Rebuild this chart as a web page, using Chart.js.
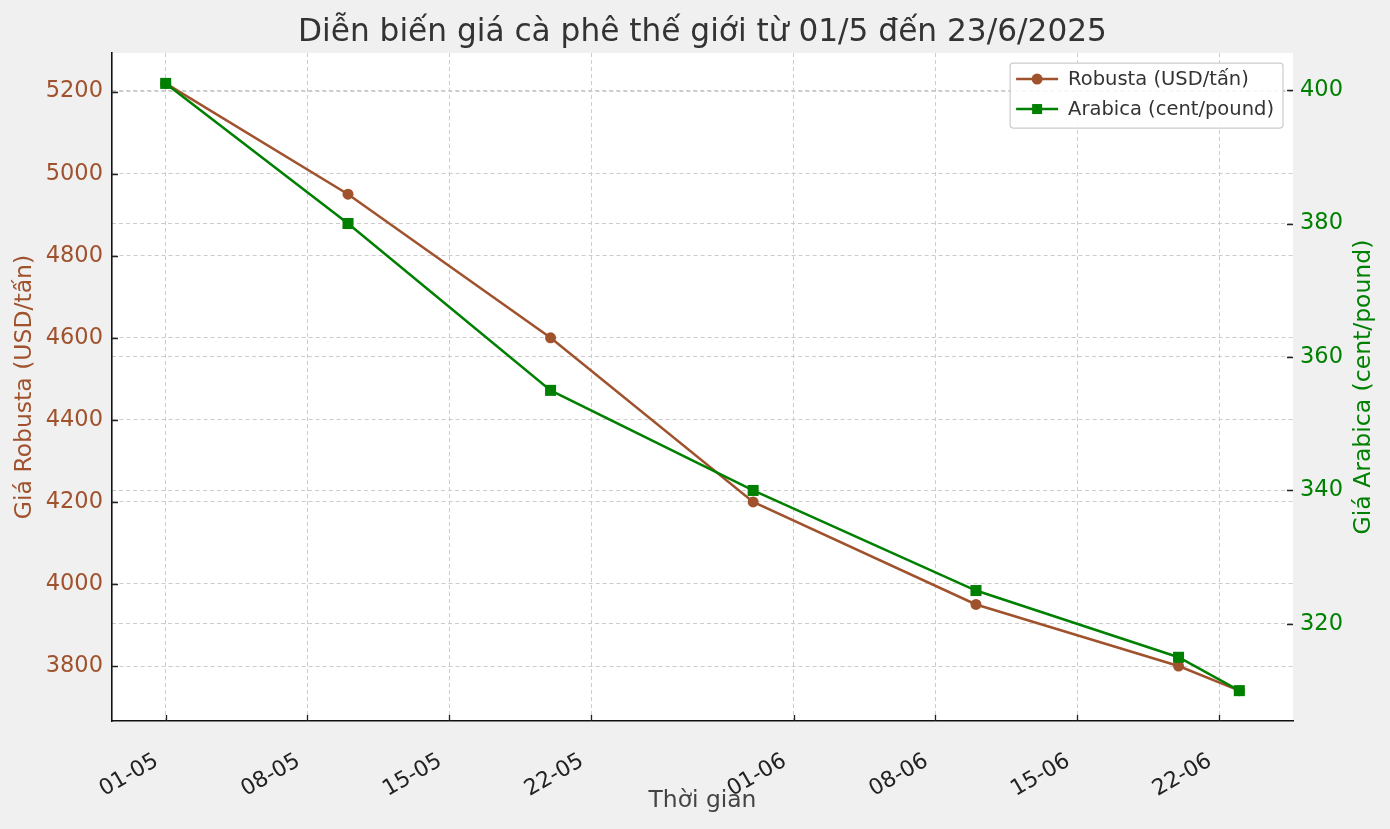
<!DOCTYPE html>
<html>
<head>
<meta charset="utf-8">
<title>Giá cà phê</title>
<script src="https://cdn.jsdelivr.net/npm/chart.js@4.4.1/dist/chart.umd.min.js"></script>
<style>
  html, body { margin: 0; padding: 0; background: #f0f0f0; }
  #wrap { width: 1390px; height: 829px; position: relative; }
</style>
</head>
<body>
<div id="wrap"><canvas id="coffeeChart"></canvas></div>
<script>
// data
const dates = ['2025-05-01', '2025-05-10', '2025-05-20', '2025-05-30', '2025-06-10', '2025-06-20', '2025-06-23'];
const robusta = [5220, 4950, 4600, 4200, 3950, 3800, 3740];
const arabica = [401, 380, 355, 340, 325, 315, 310];

const xTickDates = ['2025-05-01', '2025-05-08', '2025-05-15', '2025-05-22', '2025-06-01', '2025-06-08', '2025-06-15', '2025-06-22'];
const xTickLabels = ['01-05', '08-05', '15-05', '22-05', '01-06', '08-06', '15-06', '22-06'];
const robustaTicks = [3800, 4000, 4200, 4400, 4600, 4800, 5000, 5200];
const arabicaTicks = [320, 340, 360, 380, 400];

const robustaColor = '#a0522d';
const arabicaColor = '#008000';
const rightTitle = 'Giá Arabica (cent/pound)';

function dayOf(str) {
    const p = str.split('-').map(Number);
    return (Date.UTC(p[0], p[1] - 1, p[2]) - Date.UTC(2025, 4, 1)) / 86400000;
}

// matplotlib style 5% margins
function padRange(values) {
    const lo = Math.min(...values), hi = Math.max(...values);
    const m = (hi - lo) * 0.05;
    return [lo - m, hi + m];
}

const days = dates.map(dayOf);
const xRange = padRange(days);
const leftRange = padRange(robusta);
const rightRange = padRange(arabica);

Chart.defaults.font.family = '"DejaVu Sans", sans-serif';

const plotBackground = {
    id: 'plotBackground',
    beforeDraw(chart) {
        const a = chart.chartArea;
        const ctx = chart.ctx;
        ctx.save();
        ctx.fillStyle = '#ffffff';
        ctx.fillRect(a.left, a.top, a.right - a.left, a.bottom - a.top);
        ctx.restore();
    }
};

// small tick marks pointing into the plot + right axis title read bottom to top
const innerTicks = {
    id: 'innerTicks',
    afterDraw(chart) {
        const ctx = chart.ctx;
        const a = chart.chartArea;
        ctx.save();
        ctx.strokeStyle = '#222';
        ctx.lineWidth = 1.3;
        ctx.beginPath();
        chart.scales.x.ticks.forEach(t => {
            const px = Math.round(chart.scales.x.getPixelForValue(t.value)) + 0.5;
            ctx.moveTo(px, a.bottom);
            ctx.lineTo(px, a.bottom - 6);
        });
        chart.scales.y.ticks.forEach(t => {
            const py = Math.round(chart.scales.y.getPixelForValue(t.value)) + 0.5;
            ctx.moveTo(a.left, py);
            ctx.lineTo(a.left + 6, py);
        });
        chart.scales.y1.ticks.forEach(t => {
            const py = Math.round(chart.scales.y1.getPixelForValue(t.value)) + 0.5;
            ctx.moveTo(a.right, py);
            ctx.lineTo(a.right - 6, py);
        });
        ctx.stroke();

        const s = chart.scales.y1;
        ctx.translate(s.right - 26, (a.top + a.bottom) / 2);
        ctx.rotate(-Math.PI / 2);
        ctx.fillStyle = arabicaColor;
        ctx.font = '23.5px "DejaVu Sans", sans-serif';
        ctx.textAlign = 'center';
        ctx.textBaseline = 'middle';
        ctx.fillText(rightTitle, 0, 0);
        ctx.restore();
    }
};

// legend box in the upper right corner of the plot
const cornerLegend = {
    id: 'cornerLegend',
    afterDraw(chart) {
        const ctx = chart.ctx;
        const a = chart.chartArea;
        ctx.save();
        ctx.font = '19.5px "DejaVu Sans", sans-serif';
        const sets = chart.data.datasets;
        const textW = Math.max(...sets.map(d => ctx.measureText(d.label).width));
        const w = 58 + textW + 9;
        const h = 65;
        const x0 = a.right - 10 - w;
        const y0 = a.top + 10;
        ctx.fillStyle = 'rgba(255,255,255,0.85)';
        ctx.strokeStyle = '#cccccc';
        ctx.lineWidth = 1.2;
        ctx.beginPath();
        ctx.roundRect(x0, y0, w, h, 3);
        ctx.fill();
        ctx.stroke();
        sets.forEach((d, i) => {
            const cy = y0 + 16 + i * 30;
            ctx.strokeStyle = d.borderColor;
            ctx.lineWidth = 2.5;
            ctx.beginPath();
            ctx.moveTo(x0 + 6, cy);
            ctx.lineTo(x0 + 48, cy);
            ctx.stroke();
            ctx.fillStyle = d.pointBackgroundColor;
            if (d.pointStyle === 'rect') {
                ctx.fillRect(x0 + 27 - 5, cy - 5, 10, 10);
            } else {
                ctx.beginPath();
                ctx.arc(x0 + 27, cy, 5.5, 0, Math.PI * 2);
                ctx.fill();
            }
            ctx.fillStyle = '#333';
            ctx.textBaseline = 'middle';
            ctx.fillText(d.label, x0 + 58, cy + 1);
        });
        ctx.restore();
    }
};

const gridStyle = { color: '#cccccc', lineWidth: 1, drawTicks: false };

const ctx = document.getElementById('coffeeChart').getContext('2d');
const coffeeChart = new Chart(ctx, {
    type: 'line',
    data: {
        datasets: [
            {
                label: 'Robusta (USD/tấn)',
                data: days.map((d, i) => ({ x: d, y: robusta[i] })),
                yAxisID: 'y',
                borderColor: robustaColor,
                backgroundColor: robustaColor,
                pointBackgroundColor: robustaColor,
                pointBorderColor: robustaColor,
                borderWidth: 2.5,
                pointStyle: 'circle',
                pointRadius: 5.5,
                pointBorderWidth: 0,
                tension: 0,
                order: 2
            },
            {
                label: 'Arabica (cent/pound)',
                data: days.map((d, i) => ({ x: d, y: arabica[i] })),
                yAxisID: 'y1',
                borderColor: arabicaColor,
                backgroundColor: arabicaColor,
                pointBackgroundColor: arabicaColor,
                pointBorderColor: arabicaColor,
                borderWidth: 2.5,
                pointStyle: 'rect',
                pointRadius: 7.8,
                pointBorderWidth: 0,
                tension: 0,
                order: 1
            }
        ]
    },
    options: {
        responsive: true,
        maintainAspectRatio: false,
        animation: false,
        layout: { padding: 0 },
        plugins: {
            legend: { display: false },
            tooltip: { enabled: false },
            title: {
                display: true,
                fullSize: false,
                text: 'Diễn biến giá cà phê thế giới từ 01/5 đến 23/6/2025',
                color: '#333333',
                font: { size: 31.2, weight: 'normal', lineHeight: 1.2 },
                padding: { top: 14.5, bottom: 1.1 }
            }
        },
        scales: {
            x: {
                type: 'linear',
                min: xRange[0],
                max: xRange[1],
                afterBuildTicks: scale => {
                    scale.ticks = xTickDates.map(s => ({ value: dayOf(s) }));
                },
                afterFit: scale => { scale.height = 108; },
                ticks: {
                    autoSkip: false,
                    maxRotation: 30,
                    minRotation: 30,
                    padding: 27,
                    labelOffset: -9,
                    color: '#222',
                    font: { size: 22 },
                    callback: (value, index) => xTickLabels[index]
                },
                grid: gridStyle,
                border: { display: true, color: '#111', width: 1.6, dash: [4, 3] },
                title: {
                    display: true,
                    text: 'Thời gian',
                    color: '#444',
                    font: { size: 23.4 },
                    padding: { top: 0, bottom: 14 }
                }
            },
            y: {
                position: 'left',
                min: leftRange[0],
                max: leftRange[1],
                afterBuildTicks: scale => {
                    scale.ticks = robustaTicks.map(v => ({ value: v }));
                },
                afterFit: scale => { scale.width = 112; },
                ticks: {
                    padding: 9,
                    color: robustaColor,
                    font: { size: 22.5 },
                    callback: value => String(value)
                },
                grid: gridStyle,
                border: { display: true, color: '#111', width: 1.6, dash: [4, 3] },
                title: {
                    display: true,
                    text: 'Giá Robusta (USD/tấn)',
                    color: robustaColor,
                    font: { size: 23.5 },
                    padding: { top: 11, bottom: 0 }
                }
            },
            y1: {
                position: 'right',
                min: rightRange[0],
                max: rightRange[1],
                afterBuildTicks: scale => {
                    scale.ticks = arabicaTicks.map(v => ({ value: v }));
                },
                afterFit: scale => { scale.width = 97; },
                ticks: {
                    padding: 7,
                    color: arabicaColor,
                    font: { size: 22.5 },
                    callback: value => String(value)
                },
                grid: gridStyle,
                border: { display: false, dash: [4, 3] },
                title: { display: false }
            }
        }
    },
    plugins: [plotBackground, innerTicks, cornerLegend]
});
</script>
</body>
</html>
